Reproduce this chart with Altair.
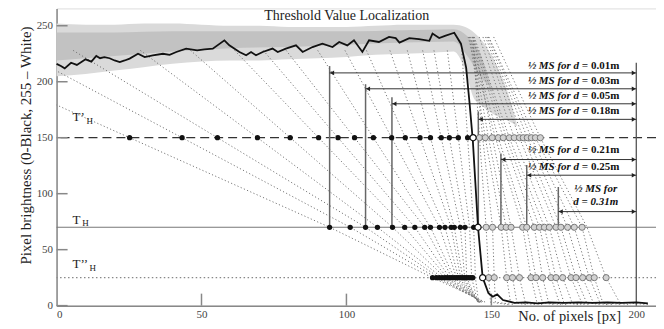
import altair as alt
import pandas as pd

FONT = "Liberation Serif"
X_MAX = 206.8
Y_MAX = 265.5

TITLE = "Threshold Value Localization"
Y_TITLE = "Pixel brightness (0-Black, 255 \u2013 White)"
X_TITLE = "No. of pixels [px]"
X_TICKS = [0, 50, 100, 150, 200]
Y_TICKS = [0, 50, 100, 150, 200, 250]

# thresholds
T1, T2, T3 = 150, 70, 25

# sharp-edge profile (solid black line)
EDGE_X = [0, 1.5, 2.8, 5, 7, 10, 12, 13.7, 15, 16.5, 18.3, 20, 21.8, 23.5, 25.2, 28.1, 30.4, 33.2,
          36.7, 39, 41.3, 44.7, 48.5, 51, 53.9, 57.9, 59.6, 63.1, 65.4, 67.1, 68.8, 71.1, 74.5,
          76.3, 79.1, 82.6, 84.9, 88.3, 91.7, 95.2, 97.5, 100.3, 102.6, 105.5, 107.8, 111.2,
          114.7, 117, 118.3, 121.7, 125, 128.6, 129.7, 132, 134, 137.2, 139.5, 141.3, 142.4,
          143.6, 145.4, 147, 149, 150.5, 152, 154, 158, 162, 166, 170, 175, 180, 185, 190,
          195, 200, 204]
EDGE_Y = [216, 214, 212, 217, 215, 220, 218, 223, 221, 222, 221, 219, 217.6, 219, 220.7, 225, 222,
          223.6, 225, 224, 226.6, 229.6, 228, 229, 229.6, 237, 232.5, 226.6, 223.6, 226.6, 223.6,
          226.6, 229.6, 226.6, 229.6, 232.5, 226.6, 231, 234, 231, 235.5, 232.5, 237, 226.6, 237,
          235.5, 240, 239, 235, 239, 238, 236.6, 243, 239, 241, 243.8, 234, 212.6, 183, 147.7,
          70, 25, 11, 8, 10, 5, 2.5, 3, 2, 3, 2.5, 3, 2.5, 3, 2.5, 3, 2]

# dotted blurred profiles, left family: x at the levels below
LEFT_LEVELS = [228, 150, 70, 25, 3]
LEFT_CURVES = [
    (-42.0, 25.2, 94.2, 129.7, 148.0),
    (-13.3, 43.3, 101.3, 131.0, 147.5),
    (5.7, 55.5, 106.6, 132.0, 147.0),
    (28.9, 69.3, 110.7, 133.0, 146.8),
    (46.2, 80.6, 115.9, 134.0, 146.6),
    (61.4, 90.4, 120.1, 134.8, 146.4),
    (71.3, 97.1, 123.6, 135.6, 146.2),
    (79.2, 102.8, 127.0, 136.4, 146.0),
    (90.1, 109.3, 129.0, 137.2, 145.9),
    (99.5, 115.6, 132.1, 138.0, 145.8),
    (106.9, 120.3, 134.0, 138.7, 145.7),
    (115.0, 125.4, 136.1, 139.4, 145.6),
    (121.0, 129.0, 137.2, 140.1, 145.5),
    (126.3, 132.7, 139.3, 140.8, 145.4),
    (130.2, 135.5, 140.9, 141.5, 145.3),
    (134.8, 138.6, 142.5, 143.2, 145.3),
    (139.8, 141.8, 143.9, 144.5, 145.6),
]
# right family
RIGHT_LEVELS = [240, 150, 70, 25, 3, 1]
RIGHT_CURVES = [
    (143.6, 145.9, 148.2, 149.1, 149.7, 156),
    (143.6, 147.0, 150.4, 151.0, 151.4, 158),
    (142.4, 147.9, 153.4, 155.3, 156.6, 162),
    (142.9, 149.0, 155.1, 157.3, 158.8, 165),
    (143.8, 150.3, 156.8, 159.7, 161.7, 168),
    (142.0, 151.4, 160.8, 163.7, 165.7, 172),
    (142.6, 152.4, 162.2, 165.4, 167.6, 174),
    (143.4, 154.1, 164.8, 167.7, 169.7, 176),
    (143.8, 155.2, 166.6, 170.6, 173.4, 180),
    (144.1, 156.2, 168.3, 172.3, 175.0, 182),
    (145.8, 157.9, 170.0, 174.6, 177.8, 184),
    (147.1, 159.7, 172.3, 177.5, 181.1, 188),
    (148.0, 161.0, 174.0, 179.2, 182.8, 190),
    (148.5, 162.4, 176.3, 181.5, 185.1, 192),
    (149.0, 163.8, 178.6, 183.8, 187.4, 195),
    (149.1, 165.2, 181.3, 185.5, 188.4, 198),
    (150.8, 166.9, 183.0, 189.6, 194.2, 204),
]

# noisy plateau cloud (outer and inner bands)
CLOUD_X = [0, 10, 20, 30, 40, 50, 60, 70, 80, 90, 100, 110, 120, 130, 137, 141, 144, 147, 150, 153, 156, 159]
CLOUD_LO = [205, 207, 210, 213, 216, 218, 219, 219, 220, 221, 222, 224, 225, 226, 227, 210, 185, 178, 172, 168, 165, 160]
CLOUD_HI = [252, 251, 251, 252, 252, 251, 250, 250, 249, 249, 249, 250, 251, 251, 251, 249, 244, 236, 224, 208, 188, 160]
INNER_X = [0, 20, 40, 60, 80, 100, 120, 137, 142, 146, 150]
INNER_LO = [219, 223, 227, 230, 231, 233, 235, 236, 222, 205, 195]
INNER_HI = [244, 244, 245, 245, 245, 245, 246, 247, 240, 226, 195]

# crossing points
BLACK_T1 = [25.2, 43.3, 55.5, 69.3, 80.6, 90.4, 97.1, 102.8, 109.3, 115.6, 120.3, 125.4, 129.0,
            132.7, 135.5, 138.6, 141.8]
GREY_T1 = [145.9, 147.9, 150.3, 152.4, 154.1, 156.2, 157.9, 159.7, 161.0, 162.4, 163.8, 165.2, 166.9]
BLACK_T2 = [94.2, 101.3, 106.6, 110.7, 115.9, 120.1, 123.6, 127.0, 129.0, 132.1, 134.0, 136.1,
            137.2, 139.3, 140.9, 143.9]
GREY_T2 = [148.2, 150.4, 153.4, 155.1, 156.8, 160.8, 162.2, 164.8, 166.6, 168.3, 170.0, 172.3,
           174.0, 176.3, 178.6, 181.3]
BLACK_T3 = [129.7, 131.0, 132.0, 133.0, 134.0, 134.8, 135.6, 136.4, 137.2, 138.0, 138.7, 139.4,
            140.1, 140.8, 141.5, 142.2, 142.9, 143.6]
GREY_T3 = [149.1, 151.0, 155.3, 157.3, 159.7, 163.7, 165.4, 167.7, 170.6, 172.3, 174.6, 177.5,
           179.2, 181.5, 183.8, 185.5, 189.6]
WHITE_X = [143.7, 145.4, 147.0]
WHITE_Y = [T1, T2, T3]

# half-MS annotations
MS_LABELS = ["0.01m", "0.03m", "0.05m", "0.18m", "0.21m", "0.25m", "0.31m"]
MS_LEFT_X = [94.2, 106.6, 115.7, 145.5, 153.3, 162.2, 173.1]
MS_VTOP = [214.0, 197.8, 186.2, 173.5, 136.0, 125.6, 106.0]
MS_ARROW_Y = [207.9, 193.7, 180.3, 166.4, 130.5, 116.5, 84.0]
MS_TEXT_Y = [214.0, 200.3, 186.9, 173.5, 139.0, 123.7]
MS_RIGHT_X = 200
MS_TEXT_SPLIT_X = 184.4
MS_TOP_RIGHT = 217

# ---------------------------------------------------------------
XSC = alt.Scale(domain=[0, X_MAX], nice=False, zero=False)
YSC = alt.Scale(domain=[0, Y_MAX], nice=False, zero=False)
XAX = alt.Axis(values=X_TICKS, ticks=False, grid=False, domainColor="#888", domainWidth=1.5,
               labelFont=FONT, labelFontSize=11, labelColor="#444", labelPadding=3,
               title=X_TITLE, titleFont=FONT, titleFontSize=14.5, titleFontWeight="normal",
               titleColor="#222", titleX=514, titleY=11, titleAlign="center", titleBaseline="middle")
YAX = alt.Axis(values=Y_TICKS, ticks=False, grid=False, domainColor="#888", domainWidth=1.5,
               labelFont=FONT, labelFontSize=11, labelColor="#444", labelPadding=4,
               title=Y_TITLE, titleFont=FONT, titleFontSize=15, titleFontWeight="normal",
               titleColor="#222", titleX=-31, titleY=137, titleAlign="center", titleBaseline="middle",
               titleAngle=270)


def X(f):
    return alt.X(f, type="quantitative", scale=XSC, axis=XAX)


def Y(f):
    return alt.Y(f, type="quantitative", scale=YSC, axis=YAX)


def curves_df(curves, levels):
    rows = []
    for ci, c in enumerate(curves):
        for oi, (xv, yv) in enumerate(zip(c, levels)):
            rows.append({"c": ci, "o": oi, "x": xv, "y": yv})
    return pd.DataFrame(rows)


cloud_outer = alt.Chart(pd.DataFrame({"x": CLOUD_X, "lo": CLOUD_LO, "hi": CLOUD_HI})).mark_area(
    color="#dadada", interpolate="monotone").encode(x=X("x"), y=Y("lo"), y2="hi")
cloud_inner = alt.Chart(pd.DataFrame({"x": INNER_X, "lo": INNER_LO, "hi": INNER_HI})).mark_area(
    color="#c2c2c2", interpolate="monotone").encode(x=X("x"), y=Y("lo"), y2="hi")

left_lines = alt.Chart(curves_df(LEFT_CURVES, LEFT_LEVELS)).mark_line(
    color="#777", strokeWidth=1, strokeDash=[1.2, 2.3], clip=True).encode(
    x=X("x"), y=Y("y"), detail="c:N", order="o:Q")
right_lines = alt.Chart(curves_df(RIGHT_CURVES, RIGHT_LEVELS)).mark_line(
    color="#777", strokeWidth=1, strokeDash=[1.2, 2.3], clip=True).encode(
    x=X("x"), y=Y("y"), detail="c:N", order="o:Q")

rule_t1 = alt.Chart(pd.DataFrame({"v": [T1]})).mark_rule(
    color="#333", strokeWidth=1.2, strokeDash=[9, 5]).encode(y=Y("v"))
rule_t2 = alt.Chart(pd.DataFrame({"v": [T2]})).mark_rule(
    color="#777", strokeWidth=1.2).encode(y=Y("v"))
rule_t3 = alt.Chart(pd.DataFrame({"v": [T3]})).mark_rule(
    color="#888", strokeWidth=1.2, strokeDash=[1.5, 2.5]).encode(y=Y("v"))

ytick = alt.Chart(pd.DataFrame({"v": Y_TICKS})).mark_rule(color="#888", strokeWidth=1.5).encode(
    y=Y("v"), x=alt.datum(0), x2=alt.datum(3.8))
xtick = alt.Chart(pd.DataFrame({"v": X_TICKS[1:4]})).mark_rule(color="#888", strokeWidth=1.5).encode(
    x=X("v"), y=alt.datum(0), y2=alt.datum(10.7))

ms = pd.DataFrame({"lab": MS_LABELS, "xl": MS_LEFT_X, "vt": MS_VTOP, "ay": MS_ARROW_Y,
                   "base": [T2] * len(MS_LABELS), "xr": [MS_RIGHT_X] * len(MS_LABELS)})
verts = alt.Chart(ms).mark_rule(color="#666", strokeWidth=1.5).encode(x=X("xl"), y=Y("base"), y2="vt")
right_vert = alt.Chart(pd.DataFrame({"x": [MS_RIGHT_X], "a": [0], "b": [MS_TOP_RIGHT]})).mark_rule(
    color="#555", strokeWidth=1.3).encode(x=X("x"), y=Y("a"), y2="b")
arrows = alt.Chart(ms).mark_rule(color="#333", strokeWidth=1).encode(x=X("xl"), x2="xr", y=Y("ay"))
head_l = alt.Chart(ms).mark_point(shape="triangle-left", filled=True, color="#222", size=22,
                                  opacity=1, xOffset=2.5).encode(x=X("xl"), y=Y("ay"))
head_r = alt.Chart(ms).mark_point(shape="triangle-right", filled=True, color="#222", size=22,
                                  opacity=1, xOffset=-2.5).encode(x=X("xr"), y=Y("ay"))

edge = alt.Chart(pd.DataFrame({"x": EDGE_X, "y": EDGE_Y})).mark_line(
    color="#111", strokeWidth=1.8).encode(x=X("x"), y=Y("y"))


def dots(xs, yv, **kw):
    return alt.Chart(pd.DataFrame({"x": xs, "y": [yv] * len(xs)})).mark_circle(opacity=1, **kw).encode(
        x=X("x"), y=Y("y"))


black_kw = dict(size=28, color="#111")
grey_kw = dict(size=38, fill="#d2d2d2", stroke="#777", strokeWidth=1)
d1 = dots(BLACK_T1, T1, **black_kw)
d2 = dots(BLACK_T2, T2, **black_kw)
d3 = dots(BLACK_T3, T3, **black_kw)
g1 = dots(GREY_T1, T1, **grey_kw)
g2 = dots(GREY_T2, T2, **grey_kw)
g3 = dots(GREY_T3, T3, **grey_kw)
white = alt.Chart(pd.DataFrame({"x": WHITE_X, "y": WHITE_Y})).mark_circle(
    size=38, fill="white", stroke="#111", strokeWidth=1.2, opacity=1).encode(x=X("x"), y=Y("y"))

lab_df = pd.DataFrame({"x": [MS_TEXT_SPLIT_X] * 6, "y": MS_TEXT_Y,
                       "a": ["\u00bd MS for d ="] * 6, "b": MS_LABELS[:6]})
lab_a = alt.Chart(lab_df).mark_text(font=FONT, fontSize=11, fontWeight="bold", fontStyle="italic",
                                    align="right", baseline="middle", dx=-3, color="#111").encode(
    x=X("x"), y=Y("y"), text="a:N")
lab_b = alt.Chart(lab_df).mark_text(font=FONT, fontSize=11, fontWeight="bold",
                                    align="left", baseline="middle", color="#111").encode(
    x=X("x"), y=Y("y"), text="b:N")
lab31 = alt.Chart(pd.DataFrame({"x": [186.0, 186.0], "y": [104.1, 92.2],
                                "t": ["\u00bd MS for", "d = 0.31m"]})).mark_text(
    font=FONT, fontSize=11, fontWeight="bold", fontStyle="italic", align="center",
    baseline="middle", color="#111").encode(x=X("x"), y=Y("y"), text="t:N")

thr_main = alt.Chart(pd.DataFrame({"x": [5.5, 5.5, 5.5], "y": [168.4, 76.6, 37.4],
                                   "t": ["T\u2019", "T", "T\u2019\u2019"]})).mark_text(
    font=FONT, fontSize=13, align="left", baseline="middle", color="#222").encode(
    x=X("x"), y=Y("y"), text="t:N")
thr_sub = alt.Chart(pd.DataFrame({"x": [10.3, 8.9, 11.4], "y": [165.0, 73.5, 33.8],
                                  "t": ["H", "H", "H"]})).mark_text(
    font=FONT, fontSize=9, align="left", baseline="middle", color="#222").encode(
    x=X("x"), y=Y("y"), text="t:N")

title = alt.Chart(pd.DataFrame({"x": [100.1], "y": [259.0], "t": [TITLE]})).mark_text(
    font=FONT, fontSize=14, align="center", baseline="middle", color="#222").encode(
    x=X("x"), y=Y("y"), text="t:N")

chart = alt.layer(
    cloud_outer, cloud_inner, left_lines, right_lines, rule_t1, rule_t2, rule_t3, ytick, xtick,
    verts, right_vert, arrows, head_l, head_r, edge, d1, d2, d3, g1, g2, g3, white,
    lab_a, lab_b, lab31, thr_main, thr_sub, title
).properties(
    width=601, height=298,
    autosize=alt.AutoSizeParams(type="none"),
    padding={"left": 48.7, "top": 0, "right": 0, "bottom": 20},
).configure_view(stroke=None).configure(background="white")

chart.save("out.html", embed_options={"renderer": "svg", "actions": False})
